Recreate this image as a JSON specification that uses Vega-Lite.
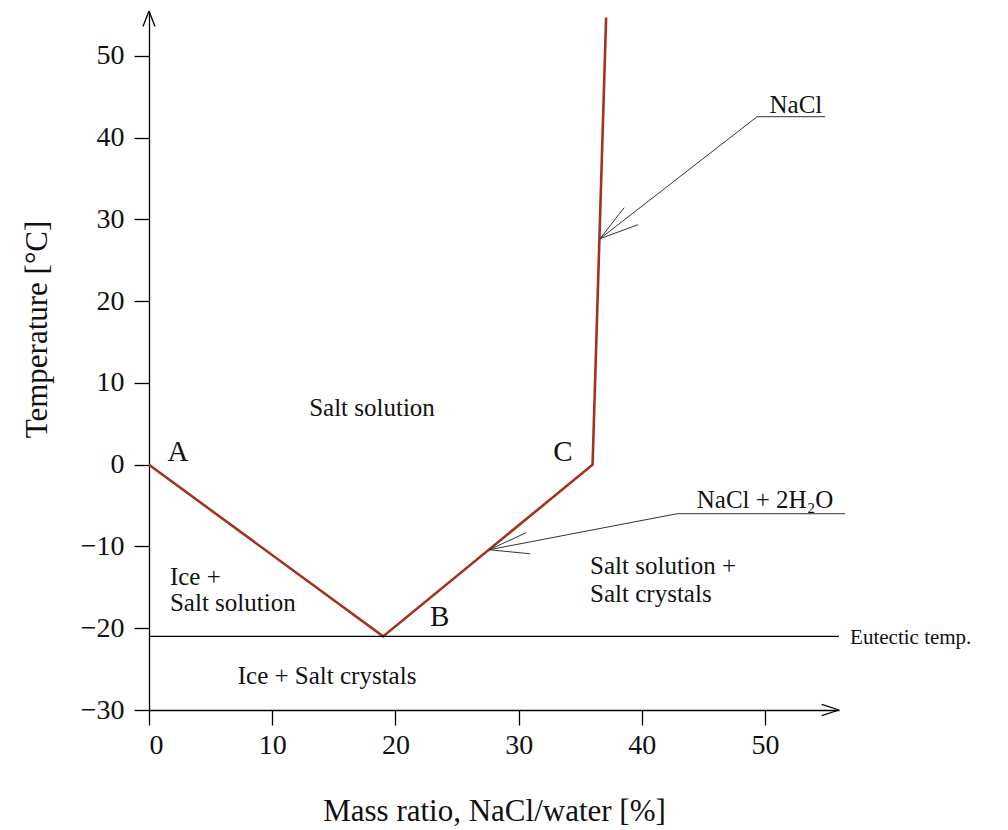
{
  "$schema": "https://vega.github.io/schema/vega-lite/v6.json",
  "width": 690,
  "height": 699,
  "autosize": "none",
  "padding": {"left": 149, "top": 11, "right": 169, "bottom": 120},
  "background": "white",
  "config": {
    "font": "Liberation Serif",
    "view": {"stroke": null},
    "axis": {
      "grid": false,
      "domainColor": "#000",
      "tickColor": "#000",
      "labelColor": "#111",
      "titleColor": "#111",
      "labelFont": "Liberation Serif",
      "titleFont": "Liberation Serif",
      "labelFontSize": 28,
      "titleFontSize": 31,
      "titleFontWeight": "normal",
      "tickSize": 15,
      "domainWidth": 1.3,
      "tickWidth": 1.3
    }
  },
  "datasets": {
    "curve": [
      {"x": 0, "y": 0, "o": 1},
      {"x": 19, "y": -21, "o": 2},
      {"x": 36, "y": 0, "o": 3},
      {"x": 37.1, "y": 54.7, "o": 4}
    ],
    "segs": [
      {"k": "axis", "x": -0.49, "y": 53.6, "x2": 0, "y2": 55.5},
      {"k": "axis", "x": 0.49, "y": 53.6, "x2": 0, "y2": 55.5},
      {"k": "axis", "x": 54.6, "y": -29.3, "x2": 56, "y2": -30},
      {"k": "axis", "x": 54.6, "y": -30.7, "x2": 56, "y2": -30},
      {"k": "axis", "x": 0, "y": -21, "x2": 56, "y2": -21},
      {"k": "leader", "x": 36.61, "y": 27.65, "x2": 49.35, "y2": 42.57},
      {"k": "leader", "x": 49.35, "y": 42.57, "x2": 54.87, "y2": 42.57},
      {"k": "leader", "x": 36.61, "y": 27.65, "x2": 38.56, "y2": 31.44},
      {"k": "leader", "x": 36.61, "y": 27.65, "x2": 39.69, "y2": 29.36},
      {"k": "leader", "x": 27.6, "y": -10.4, "x2": 42.86, "y2": -5.99},
      {"k": "leader", "x": 42.86, "y": -5.99, "x2": 56.49, "y2": -5.99},
      {"k": "leader", "x": 27.6, "y": -10.4, "x2": 30.6, "y2": -8.32},
      {"k": "leader", "x": 27.6, "y": -10.4, "x2": 30.93, "y2": -10.89}
    ],
    "labels": [
      {"t": "A", "x": 2.35, "y": 1.6, "g": "letter"},
      {"t": "C", "x": 33.6, "y": 1.5, "g": "letter"},
      {"t": "B", "x": 23.6, "y": -18.6, "g": "letter"},
      {"t": "Salt solution", "x": 18.1, "y": 7.0, "g": "center"},
      {"t": "Ice + Salt crystals", "x": 14.45, "y": -25.9, "g": "center"},
      {"t": "NaCl", "x": 52.5, "y": 44.0, "g": "center"},
      {"t": "NaCl + 2H₂O", "x": 50.0, "y": -4.3, "g": "center"},
      {"t": "Ice +", "x": 1.7, "y": -13.7, "g": "left"},
      {"t": "Salt solution", "x": 1.7, "y": -16.9, "g": "left"},
      {"t": "Salt solution +", "x": 35.8, "y": -12.35, "g": "left"},
      {"t": "Salt crystals", "x": 35.8, "y": -15.8, "g": "left"},
      {"t": "Eutectic temp.", "x": 56.9, "y": -21.2, "g": "small"}
    ]
  },
  "layer": [
    {
      "data": {"name": "curve"},
      "mark": {"type": "line", "color": "#a3331f", "strokeWidth": 2.6, "clip": false},
      "encoding": {
        "x": {
          "field": "x", "type": "quantitative",
          "scale": {"domain": [0, 56], "nice": false, "zero": false},
          "axis": {
            "values": [0, 10, 20, 30, 40, 50],
            "title": "Mass ratio, NaCl/water [%]",
            "labelPadding": 6,
            "titleY": 101,
            "titleBaseline": "middle"
          }
        },
        "y": {
          "field": "y", "type": "quantitative",
          "scale": {"domain": [-30, 55.5], "nice": false, "zero": false},
          "axis": {
            "values": [-30, -20, -10, 0, 10, 20, 30, 40, 50],
            "title": "Temperature [°C]",
            "labelPadding": 10,
            "titleX": -112,
            "titleY": 318,
            "titleBaseline": "middle"
          }
        },
        "order": {"field": "o", "type": "quantitative"}
      }
    },
    {
      "data": {"name": "segs"},
      "transform": [{"filter": "datum.k === 'axis'"}],
      "mark": {"type": "rule", "color": "#000", "strokeWidth": 1.3, "clip": false},
      "encoding": {
        "x": {"field": "x", "type": "quantitative"},
        "y": {"field": "y", "type": "quantitative"},
        "x2": {"field": "x2"},
        "y2": {"field": "y2"}
      }
    },
    {
      "data": {"name": "segs"},
      "transform": [{"filter": "datum.k === 'leader'"}],
      "mark": {"type": "rule", "color": "#333", "strokeWidth": 1, "clip": false},
      "encoding": {
        "x": {"field": "x", "type": "quantitative"},
        "y": {"field": "y", "type": "quantitative"},
        "x2": {"field": "x2"},
        "y2": {"field": "y2"}
      }
    },
    {
      "data": {"name": "labels"},
      "transform": [{"filter": "datum.g === 'letter'"}],
      "mark": {"type": "text", "fontSize": 29, "align": "center", "baseline": "middle", "color": "#111", "font": "Liberation Serif"},
      "encoding": {
        "x": {"field": "x", "type": "quantitative"},
        "y": {"field": "y", "type": "quantitative"},
        "text": {"field": "t"}
      }
    },
    {
      "data": {"name": "labels"},
      "transform": [{"filter": "datum.g === 'center'"}],
      "mark": {"type": "text", "fontSize": 25, "align": "center", "baseline": "middle", "color": "#111", "font": "Liberation Serif"},
      "encoding": {
        "x": {"field": "x", "type": "quantitative"},
        "y": {"field": "y", "type": "quantitative"},
        "text": {"field": "t"}
      }
    },
    {
      "data": {"name": "labels"},
      "transform": [{"filter": "datum.g === 'left'"}],
      "mark": {"type": "text", "fontSize": 25, "align": "left", "baseline": "middle", "color": "#111", "font": "Liberation Serif"},
      "encoding": {
        "x": {"field": "x", "type": "quantitative"},
        "y": {"field": "y", "type": "quantitative"},
        "text": {"field": "t"}
      }
    },
    {
      "data": {"name": "labels"},
      "transform": [{"filter": "datum.g === 'small'"}],
      "mark": {"type": "text", "fontSize": 21, "align": "left", "baseline": "middle", "color": "#111", "font": "Liberation Serif"},
      "encoding": {
        "x": {"field": "x", "type": "quantitative"},
        "y": {"field": "y", "type": "quantitative"},
        "text": {"field": "t"}
      }
    }
  ]
}
